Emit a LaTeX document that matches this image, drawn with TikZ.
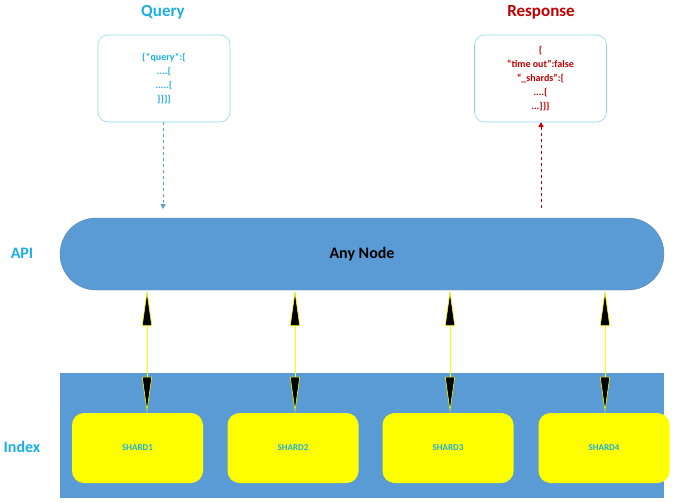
\documentclass[tikz,border=0pt]{standalone}
\usepackage{fontspec}
\setmainfont{Carlito}
\usetikzlibrary{arrows.meta}
\definecolor{blu}{HTML}{5B9BD5}
\definecolor{cy}{HTML}{1CADE4}
\definecolor{rd}{HTML}{C00000}
\definecolor{yl}{HTML}{FFFF00}
\begin{document}
\begin{tikzpicture}[x=1pt,y=-1pt,
  title/.style={font=\bfseries\fontsize{17}{20}\selectfont},
  jbox/.style={draw=cy!50,rounded corners=10pt,minimum width=132pt,minimum height=87pt,align=center,font=\bfseries\fontsize{10}{14}\selectfont,line width=0.6pt},
  shard/.style={fill=yl,rounded corners=12pt,minimum width=131pt,minimum height=70pt,text=cy,font=\bfseries\fontsize{9}{11}\selectfont},
  link/.style={draw=yl,line width=0.6pt,{Triangle[length=36pt,width=10pt,fill=black]}-{Triangle[length=36pt,width=10pt,fill=black]}},
  lbl/.style={font=\bfseries\fontsize{16}{18}\selectfont,text=cy}]
\useasboundingbox (0,0) rectangle (685,503);
\node[title,text=cy] (qt) at (163,12) {Query};
\node[title,text=rd] (rt) at (541,12) {Response};
\node[jbox,text=cy] (qb) at (164,78.5) {\{*query*:\{\\....\{\\.....\{\\\}\}\}\}};
\node[jbox,text=rd] (rb) at (540.5,78.5) {\{\\“time out”:false\\“\_shards”:\{\\....\{\\...\}\}\}};
\node[fill=blu,draw=blu!80!black,line width=0.3pt,rounded corners=36pt,minimum width=604pt,minimum height=72pt,font=\bfseries\fontsize{16}{18}\selectfont] (any) at (362,254) {Any Node};
\node[lbl] (api) at (22,253) {API};
\node[fill=blu,minimum width=604pt,minimum height=125pt,inner sep=0] (band) at (362,435.5) {};
\node[lbl] (idx) at (22,447) {Index};
\node[shard] (s1) at (137.5,448) {SHARD1};
\node[shard] (s2) at (293,448) {SHARD2};
\node[shard] (s3) at (448,448) {SHARD3};
\node[shard] (s4) at (604,448) {SHARD4};
\coordinate (q1) at (163,122); \coordinate (q2) at (163,209);
\coordinate (r1) at (541,208); \coordinate (r2) at (541,122);
\draw[blu,dashed,line width=1pt,-{Triangle[length=5pt,width=5pt]}] (q1) -- (q2);
\draw[rd,dashed,line width=1pt,-{Triangle[length=5pt,width=5pt]}] (r1) -- (r2);
\foreach \i/\x in {1/147,2/295,3/450,4/605}{
  \draw[link] (\x,290) -- (s\i.north -| \x,0);
}
\end{tikzpicture}
\end{document}
